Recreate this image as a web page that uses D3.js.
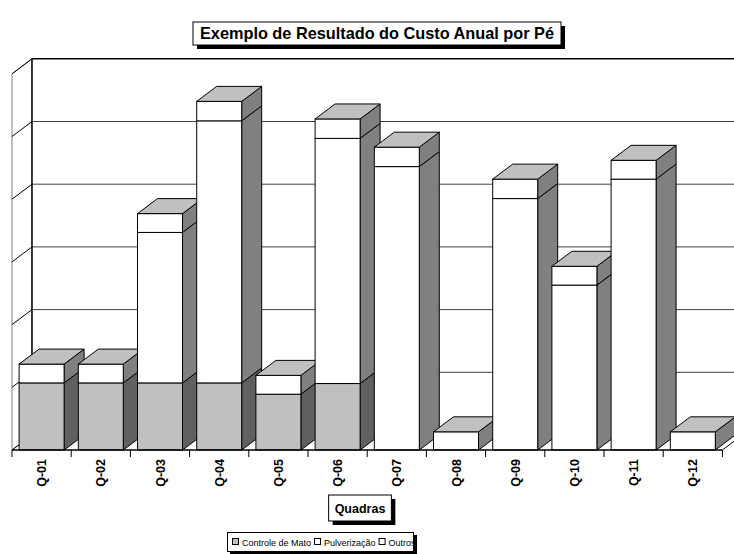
<!DOCTYPE html>
<meta charset="utf-8">
<style>
body { margin: 0; background: #fff; }
text { font-family: Arial, 'Liberation Sans', sans-serif; }
</style>
<div class="chart"></div>
<script src="https://d3js.org/d3.v7.min.js"></script>
<script>
var categories = ["Q-01", "Q-02", "Q-03", "Q-04", "Q-05", "Q-06", "Q-07", "Q-08", "Q-09", "Q-10", "Q-11", "Q-12"];
var controleMato = [1.07, 1.07, 1.07, 1.07, 0.89, 1.06, 0, 0, 0, 0, 0, 0];
var pulverizacao = [0, 0, 2.40, 4.18, 0, 3.91, 4.52, 0, 4.01, 2.63, 4.32, 0];
var outros = [0.30, 0.30, 0.30, 0.31, 0.30, 0.31, 0.31, 0.29, 0.31, 0.30, 0.30, 0.29];
var gridTicks = [0, 1, 2, 3, 4, 5, 6];

var series = [
    { name: "Controle de Mato", values: controleMato, front: "#C0C0C0", side: "#606060", top: "#909090" },
    { name: "Pulverização", values: pulverizacao, front: "#FFFFFF", side: "#808080", top: "#C0C0C0" },
    { name: "Outros", values: outros, front: "#FFFFFF", side: "#808080", top: "#C0C0C0" }
];

var W = 734, H = 554;
var dx = 20, dy = -15; // depth offset of the 3d box

var svg = d3.select(".chart").append("svg")
    .attr("width", W)
    .attr("height", H);

var x = d3.scaleBand()
    .domain(categories)
    .range([12, 722.4])
    .paddingInner(0.24)
    .paddingOuter(0.12);

var y = d3.scaleLinear()
    .domain([0, 6])
    .range([450, 450 - 6 * 62.7]);

var x0 = 12, x1 = 722.4;

// walls
svg.append("path")
    .attr("d", "M" + x0 + "," + y(6) + "L" + (x0 + dx) + "," + (y(6) + dy) + "L" + (x0 + dx) + "," + (y(0) + dy) + "L" + x0 + "," + y(0) + "Z")
    .attr("fill", "#fff")
    .attr("stroke", "#808080");

svg.append("rect")
    .attr("x", x0 + dx)
    .attr("y", y(6) + dy)
    .attr("width", W)
    .attr("height", y(0) - y(6))
    .attr("fill", "#fff");

// gridlines on back wall and left wall
gridTicks.forEach(function (t) {
    svg.append("line")
        .attr("x1", x0 + dx).attr("x2", W)
        .attr("y1", y(t) + dy).attr("y2", y(t) + dy)
        .attr("stroke", t == 6 ? "#000" : "#404040")
        .attr("stroke-width", t == 6 ? 1.5 : 1);
    svg.append("line")
        .attr("x1", x0).attr("x2", x0 + dx)
        .attr("y1", y(t)).attr("y2", y(t) + dy)
        .attr("stroke", "#000");
});

svg.append("line")
    .attr("x1", x0 + dx).attr("x2", x0 + dx)
    .attr("y1", y(6) + dy).attr("y2", y(0) + dy)
    .attr("stroke", "#000")
    .attr("stroke-width", 1.5);

// floor right edge
svg.append("line")
    .attr("x1", x1).attr("x2", x1 + dx)
    .attr("y1", y(0)).attr("y2", y(0) + dy)
    .attr("stroke", "#000");

// bars
var bw = x.bandwidth();
categories.forEach(function (c, i) {
    var bx = x(c);
    var base = 0;
    var last = null;
    series.forEach(function (s) {
        var v = s.values[i];
        if (!v) return;
        var yb = y(base), yt = y(base + v);
        svg.append("path")
            .attr("d", "M" + (bx + bw) + "," + yb + "L" + (bx + bw + dx) + "," + (yb + dy) +
                "L" + (bx + bw + dx) + "," + (yt + dy) + "L" + (bx + bw) + "," + yt + "Z")
            .attr("fill", s.side)
            .attr("stroke", "#000")
            .attr("stroke-linejoin", "round");
        svg.append("rect")
            .attr("x", bx).attr("y", yt)
            .attr("width", bw).attr("height", yb - yt)
            .attr("fill", s.front)
            .attr("stroke", "#000");
        base += v;
        last = s;
    });
    if (last) {
        var yt = y(base);
        svg.append("path")
            .attr("d", "M" + bx + "," + yt + "L" + (bx + dx) + "," + (yt + dy) +
                "L" + (bx + bw + dx) + "," + (yt + dy) + "L" + (bx + bw) + "," + yt + "Z")
            .attr("fill", last.top)
            .attr("stroke", "#000")
            .attr("stroke-linejoin", "round");
    }
});

// x axis
var step = x.step();
var axis = svg.append("g")
    .attr("transform", "translate(0," + y(0) + ")");
axis.append("line")
    .attr("x1", x0).attr("x2", x1)
    .attr("stroke", "#000")
    .attr("stroke-width", 1.5);
d3.range(categories.length + 1).forEach(function (k) {
    axis.append("line")
        .attr("x1", x0 + k * step).attr("x2", x0 + k * step)
        .attr("y1", 0).attr("y2", 7)
        .attr("stroke", "#000");
});
axis.selectAll(".lbl")
    .data(categories)
    .enter()
    .append("text")
    .attr("class", "lbl")
    .attr("transform", function (d) { return "translate(" + (x(d) + bw / 2 + 4.5) + ",9) rotate(-90)"; })
    .attr("text-anchor", "end")
    .style("font-size", "12.5px")
    .style("font-weight", "bold")
    .text(function (d) { return d; });

// boxed labels with shadow
function boxedLabel(cx, cy, txt, size, padX, h) {
    var g = svg.append("g");
    var t = g.append("text")
        .attr("x", cx).attr("y", cy + size * 0.36)
        .attr("text-anchor", "middle")
        .style("font-size", size + "px")
        .style("font-weight", "bold")
        .text(txt);
    var w = t.node().getComputedTextLength() + 2 * padX;
    g.insert("rect", "text")
        .attr("x", cx - w / 2 + 4).attr("y", cy - h / 2 + 4)
        .attr("width", w).attr("height", h)
        .attr("fill", "#000");
    g.insert("rect", "text")
        .attr("x", cx - w / 2).attr("y", cy - h / 2)
        .attr("width", w).attr("height", h)
        .attr("fill", "#fff")
        .attr("stroke", "#000");
}
boxedLabel(377, 33.5, "Exemplo de Resultado do Custo Anual por Pé", 16.3, 7, 23);
boxedLabel(360, 508, "Quadras", 12.5, 6, 26);

// legend
var lg = svg.append("g");
lg.append("rect")
    .attr("x", 230).attr("y", 535).attr("width", 187).attr("height", 20).attr("fill", "#000");
lg.append("rect")
    .attr("x", 227.5).attr("y", 532.5).attr("width", 186).attr("height", 19)
    .attr("fill", "#fff").attr("stroke", "#000");
var lx = 232;
series.forEach(function (s) {
    lg.append("rect")
        .attr("x", lx + 0.5).attr("y", 538.5)
        .attr("width", 6).attr("height", 6)
        .attr("fill", s.front).attr("stroke", "#000");
    var t = lg.append("text")
        .attr("x", lx + 10).attr("y", 545.5)
        .style("font-size", "9px")
        .text(s.name);
    lx += 10 + t.node().getComputedTextLength() + 3;
});
</script>
